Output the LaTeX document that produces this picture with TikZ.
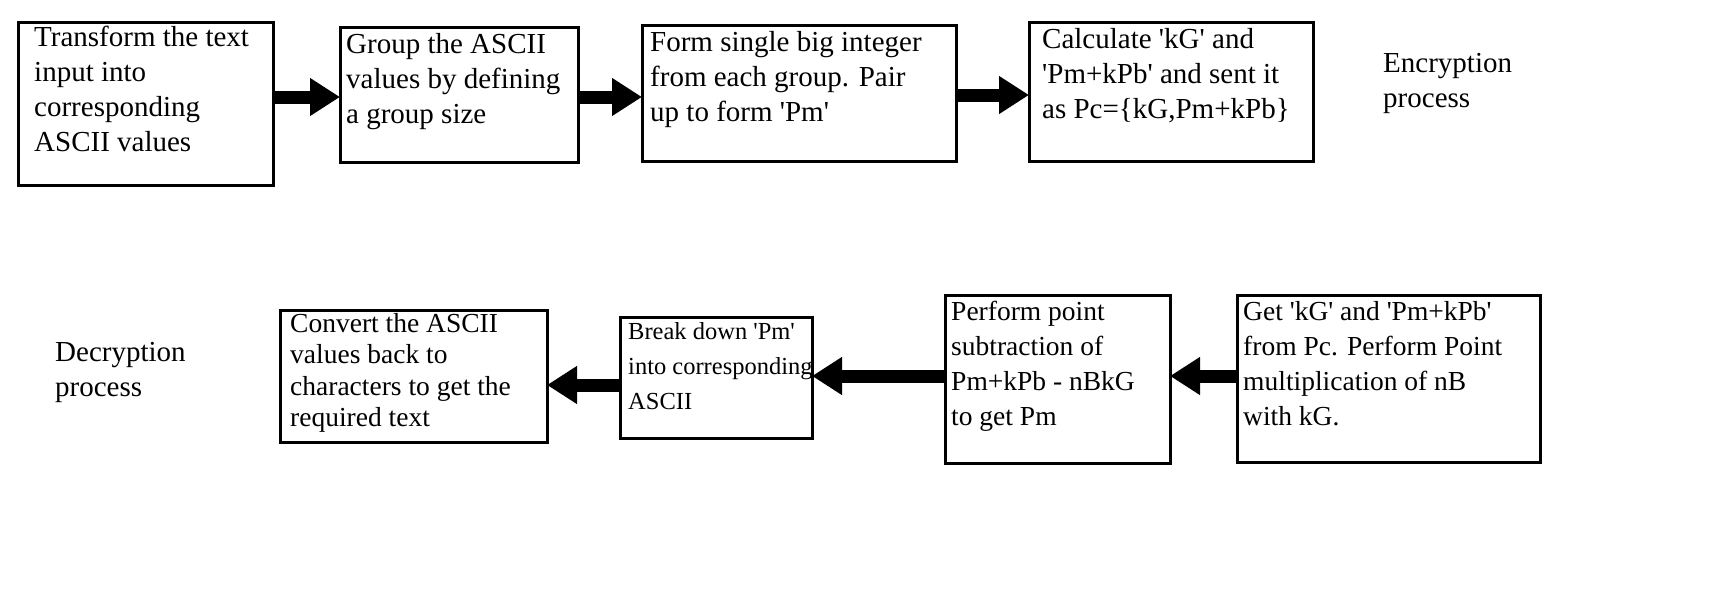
\documentclass[tikz,border=0pt]{standalone}
\usepackage{fontspec}
\setmainfont{Liberation Serif}[Ligatures=TeXOff]
\usetikzlibrary{arrows.meta}
\begin{document}
\begin{tikzpicture}[x=1pt,y=-1pt,
  lbl/.style={align=left,anchor=north west,inner sep=0pt},
  arr/.style={line width=13pt,-{Triangle[length=30pt,width=36pt]}},
  font=\fontsize{29}{35}\selectfont]
\useasboundingbox (0,0) rectangle (1712,597);
\draw[line width=3pt] (18,22) rectangle (273,185);
\draw[line width=3pt] (340,27) rectangle (578,162);
\draw[line width=3pt] (642,25) rectangle (956,161);
\draw[line width=3pt] (1029,22) rectangle (1313,161);
\draw[line width=3pt] (280,310) rectangle (547,442);
\draw[line width=3pt] (620,317) rectangle (812,438);
\draw[line width=3pt] (945,295) rectangle (1170,463);
\draw[line width=3pt] (1237,295) rectangle (1540,462);
\coordinate (b1e) at (273,97); \coordinate (b2w) at (340,97);
\coordinate (b2e) at (578,97); \coordinate (b3w) at (642,97);
\coordinate (b3e) at (956,95); \coordinate (b4w) at (1029,95);
\coordinate (b8w) at (1237,376); \coordinate (b7e) at (1170,376);
\coordinate (b7w) at (945,376); \coordinate (b6e) at (812,376);
\coordinate (b6w) at (620,385); \coordinate (b5e) at (547,385);
\node[lbl] (t1) at (34,26) {Transform the text\\input into\\corresponding\\ASCII values};
\node[lbl] (t2) at (346,33) {Group the ASCII\\values by defining\\a group size};
\node[lbl] (t3) at (650,31) {Form single big integer\\from each group. Pair\\up to form 'Pm'};
\node[lbl] (t4) at (1042,28) {Calculate 'kG' and\\'Pm+kPb' and sent it\\as Pc=\{kG,Pm+kPb\}};
\node[lbl] (enc) at (1383,53) {Encryption\\process};
\node[lbl] (dec) at (55,342) {Decryption\\process};
\node[lbl,font=\fontsize{27.5}{31.5}\selectfont] (t5) at (290,313) {Convert the ASCII\\values back to\\characters to get the\\required text};
\node[lbl,font=\fontsize{24.5}{35}\selectfont] (t6) at (628,322) {Break down 'Pm'\\into corresponding\\ASCII};
\node[lbl,font=\fontsize{27.5}{35}\selectfont] (t7) at (951,301) {Perform point\\subtraction of\\Pm+kPb - nBkG\\to get Pm};
\node[lbl,font=\fontsize{27.5}{35}\selectfont] (t8) at (1243,301) {Get 'kG' and 'Pm+kPb'\\from Pc. Perform Point\\multiplication of nB\\with kG.};
\draw[arr] (b1e) -- (b2w);
\draw[arr] (b2e) -- (b3w);
\draw[arr] (b3e) -- (b4w);
\draw[arr] (b8w) -- (b7e);
\draw[arr] (b7w) -- (b6e);
\draw[arr] (b6w) -- (b5e);
\end{tikzpicture}
\end{document}
